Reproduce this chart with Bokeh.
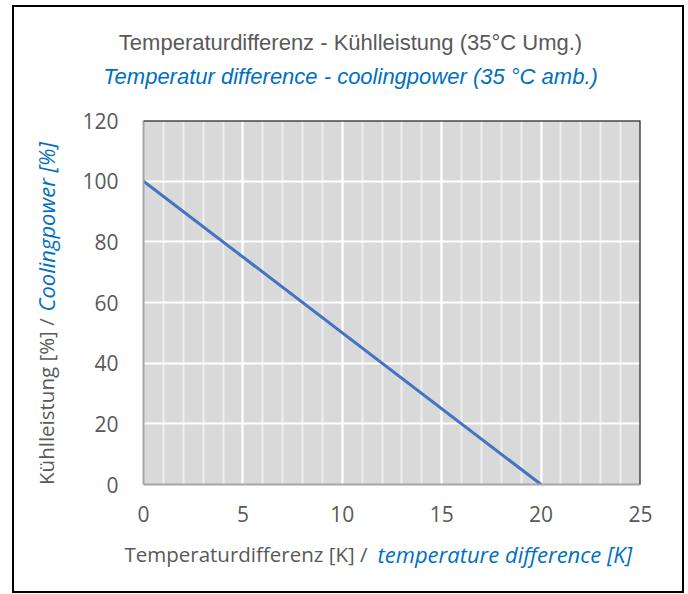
import math
from bokeh.plotting import figure
from bokeh.models import Span, SingleIntervalTicker, Range1d
from bokeh.layouts import column, row
from bokeh.core.properties import value
from bokeh.embed import file_html
from bokeh.resources import INLINE

# data
temp_diff = [0, 20]
cooling_power = [100, 0]

title_de = "Temperaturdifferenz - Kühlleistung (35°C Umg.)"
title_en = "Temperatur difference - coolingpower (35 °C amb.)"
xlab_de = "Temperaturdifferenz [K] /"
xlab_en = "temperature difference [K]"
ylab_de = "Kühlleistung [%] /"
ylab_en = "Coolingpower [%]"

GRAY = "#595959"
BLUE = "#0070C0"

# page geometry (content box inside the 2px outer border)
X0, Y0 = 14, 7
X1, Y1 = 682, 591
TITLE_BOTTOM = 105
PLOT_BOTTOM = 530
YLAB_RIGHT = 74
FRAME_L, FRAME_R, FRAME_T, FRAME_B = 143, 640, 120, 484


def text_fig(w, h):
    f = figure(width=w, height=h, output_backend="svg", toolbar_location=None,
               x_range=Range1d(0, w), y_range=Range1d(0, h),
               x_axis_location=None, y_axis_location=None,
               min_border=0, min_border_left=0, min_border_right=0,
               min_border_top=0, min_border_bottom=0)
    f.grid.visible = False
    f.outline_line_color = None
    f.background_fill_color = "#FFFFFF"
    f.border_fill_color = "#FFFFFF"
    return f


def put(f, h, ox, oy, px, py, txt, color, italic=False, align="center", angle=0.0,
        size="20px", font="Open Sans"):
    f.text(x=[px - ox], y=[h - (py - oy)], text=[txt], angle=angle,
           text_align=align, text_baseline="middle",
           text_font=value(font), text_font_size=value(size), text_color=color,
           text_font_style="italic" if italic else "normal")


# title block
TW, TH = X1 - X0, TITLE_BOTTOM - Y0
tf = text_fig(TW, TH)
put(tf, TH, X0, Y0, 350, 42, title_de, GRAY, size="22px", font="Liberation Sans")
put(tf, TH, X0, Y0, 350, 76, title_en, BLUE, italic=True, size="22px", font="Liberation Sans")

# y label block
YW, YH = YLAB_RIGHT - X0, PLOT_BOTTOM - TITLE_BOTTOM
yf = text_fig(YW, YH)
put(yf, YH, X0, TITLE_BOTTOM, 45, 336, ylab_de, GRAY, align="right", angle=math.pi / 2, size="20.5px")
put(yf, YH, X0, TITLE_BOTTOM, 45, 328, ylab_en, BLUE, italic=True, align="left", angle=math.pi / 2,
    size="22px")

# x label block
XW, XH = X1 - X0, Y1 - PLOT_BOTTOM
xf = text_fig(XW, XH)
put(xf, XH, X0, PLOT_BOTTOM, 367, 553, xlab_de, GRAY, align="right", size="20.5px")
put(xf, XH, X0, PLOT_BOTTOM, 377, 553, xlab_en, BLUE, italic=True, align="left", size="22px")

# main chart
PW, PH = X1 - YLAB_RIGHT, PLOT_BOTTOM - TITLE_BOTTOM
p = figure(width=PW, height=PH, output_backend="svg", toolbar_location=None,
           x_range=Range1d(0, 25), y_range=Range1d(0, 120),
           min_border_left=FRAME_L - YLAB_RIGHT, min_border_right=X1 - FRAME_R,
           min_border_top=FRAME_T - TITLE_BOTTOM, min_border_bottom=PLOT_BOTTOM - FRAME_B)
p.background_fill_color = "#D9D9D9"
p.border_fill_color = "#FFFFFF"
p.outline_line_color = None

p.xaxis.ticker = SingleIntervalTicker(interval=5, num_minor_ticks=5)
p.yaxis.ticker = SingleIntervalTicker(interval=20, num_minor_ticks=0)
for ax in (p.xaxis[0], p.yaxis[0]):
    ax.major_tick_line_color = None
    ax.minor_tick_line_color = None
    ax.axis_line_color = "#A6A6A6"
    ax.axis_line_width = 2
    ax.major_label_text_font = "Open Sans"
    ax.major_label_text_font_size = "21px"
    ax.major_label_text_color = GRAY
p.xaxis.major_label_standoff = 15
p.yaxis.major_label_standoff = 19

p.xgrid.grid_line_color = "#FFFFFF"
p.xgrid.grid_line_width = 2
p.xgrid.minor_grid_line_color = "#EEEEEE"
p.xgrid.minor_grid_line_width = 2
p.ygrid.grid_line_color = "#FFFFFF"
p.ygrid.grid_line_width = 2

p.line(temp_diff, cooling_power, line_color="#4472C4", line_width=3)

p.add_layout(Span(location=120, dimension="width", line_color="#000000", line_width=2))
p.add_layout(Span(location=25, dimension="height", line_color="#000000", line_width=2))

layout = column(tf, row(yf, p, spacing=0), xf, spacing=0)
layout.styles = {"margin-left": f"{X0 - 2}px", "margin-top": f"{Y0 - 2}px",
                 "border": "2px solid #000000", "width": f"{X1 - X0}px",
                 "height": f"{Y1 - Y0}px", "box-sizing": "content-box"}

open("out.html", "w").write(file_html(layout, INLINE))
